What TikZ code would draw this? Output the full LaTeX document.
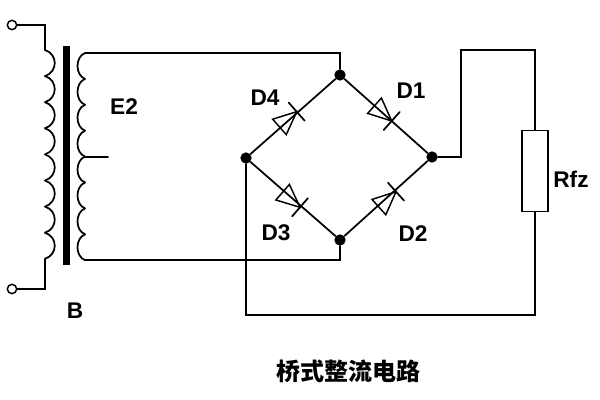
\documentclass[tikz,border=0pt]{standalone}
\usepackage{fontspec}
\setmainfont{Liberation Sans}
\newfontfamily\cjk{Noto Sans CJK SC}
\usetikzlibrary{positioning}
\tikzstyle{wire} = [line width=1.3pt, line cap=round, line join=miter]
\tikzstyle{dot} = [circle, fill=black, inner sep=0pt, minimum size=8.5pt]
\tikzstyle{term} = [circle, draw, line width=1.1pt, inner sep=0pt, minimum size=7pt]
\tikzstyle{res} = [draw, line width=1.3pt, minimum width=19.5pt, minimum height=60.75pt, inner sep=0pt]
\tikzstyle{lab} = [font=\fontsize{17}{17}\selectfont\bfseries, inner sep=0pt]
\tikzstyle{title} = [font=\fontsize{18}{18}\selectfont\cjk\bfseries, inner sep=0pt]
\tikzset{diode/.pic={
    \draw[line width=1.1pt] (-23,-10.3) -- (0,0) -- (-23,10.3) -- cycle;
    \draw[wire] (0,-12) -- (0,12);
}}

\begin{document}
\begin{tikzpicture}[x=0.75pt, y=0.75pt]
    \useasboundingbox (0,0) rectangle (600,400);

    % bridge
    \node [dot](top) at (340,325) {};
    \node [dot](rgt) at (432,243) {};
    \node [dot](bot) at (340,160) {};
    \node [dot](lft) at (246,242) {};
    \path (top) edge[wire] (rgt);
    \path (lft) edge[wire] (top);
    \path (lft) edge[wire] (bot);
    \path (bot) edge[wire] (rgt);
    \pic[rotate=-41.7] at (391.7,279) {diode};
    \pic[rotate=41.4] at (296.7,288.3) {diode};
    \pic[rotate=-41] at (300,192.7) {diode};
    \pic[rotate=42] at (396,208.3) {diode};

    % transformer
    \fill (63.3,135) rectangle (70,354);
    \coordinate (p1) at (45,350);
    \coordinate (p2) at (45,141);
    \foreach \i in {0,...,7} {
        \draw[wire] (45,350-26.1*\i) .. controls (58,346-26.1*\i) and (58,328-26.1*\i) .. (45,323.9-26.1*\i);
    }
    \coordinate (s1) at (85,347);
    \coordinate (s2) at (85,140);
    \coordinate (tap) at (85,243);
    \foreach \i in {0,...,7} {
        \draw[wire] (85,347-25.9*\i) .. controls (75,343-25.9*\i) and (75,325-25.9*\i) .. (85,321.1-25.9*\i);
    }
    \coordinate (tapend) at (108,243);
    \draw[wire] (tap) -- (tapend);

    % terminals
    \node [term](in1) at (12,375) {};
    \node [term](in2) at (12,111) {};
    \draw[wire] (in1) -| (p1);
    \draw[wire] (in2) -| (p2);
    \draw[wire] (s1) -| (top);
    \draw[wire] (s2) -| (bot);

    % load
    \node [res](rfz) at (535,229) {};
    \coordinate (c1) at (461,243);
    \coordinate (c2) at (461,350);
    \coordinate (c3) at (535,350);
    \coordinate (c4) at (535,85);
    \coordinate (c5) at (246,85);
    \draw[wire] (rgt) -- (c1) -- (c2) -- (c3) -- (rfz.north);
    \draw[wire] (rfz.south) -- (c4) -- (c5) -- (lft);

    % labels
    \node [lab](e2) at (124,293) {E2};
    \node [lab](b) at (75,89) {B};
    \node [lab](d4) at (265,302) {D4};
    \node [lab](d1) at (411,309) {D1};
    \node [lab](d3) at (276,167) {D3};
    \node [lab](d2) at (413,166) {D2};
    \node [lab](rfzlab) at (571,221) {Rfz};
    \node [title](cap) at (348,29) {桥式整流电路};
\end{tikzpicture}
\end{document}
